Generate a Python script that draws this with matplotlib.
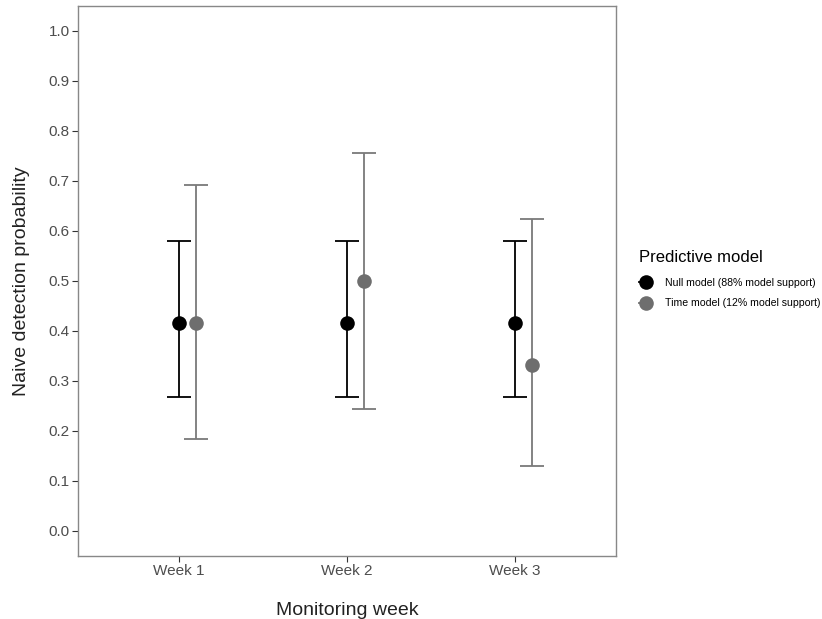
import matplotlib
matplotlib.use("Agg")
import matplotlib.pyplot as plt
from matplotlib.lines import Line2D
import numpy as np

plt.rcParams['font.family'] = ['Liberation Sans', 'DejaVu Sans']

weeks = ["Week 1", "Week 2", "Week 3"]
null_est = [0.417, 0.417, 0.417]
null_lo = [0.269, 0.269, 0.269]
null_hi = [0.581, 0.581, 0.581]
time_est = [0.417, 0.500, 0.333]
time_lo = [0.184, 0.244, 0.130]
time_hi = [0.692, 0.757, 0.624]
labels = ["Null model (88% model support)", "Time model (12% model support)"]

fig = plt.figure(figsize=(8.22, 6.19), dpi=100)
ax = fig.add_axes([78/822, 1-556/619, (616-78)/822, (556-6)/619])

x = np.arange(1, len(weeks)+1)
nudge = 0.1
cap = 8.5

def draw(xs, est, lo, hi, pcol, lcol):
    est = np.array(est); lo = np.array(lo); hi = np.array(hi)
    ax.errorbar(xs, est, yerr=[est-lo, hi-est], fmt='none', ecolor=lcol,
                elinewidth=1.3, capsize=cap, capthick=1.3, zorder=2)
    ax.plot(xs, est, 'o', color=pcol, markersize=10.5, zorder=3, markeredgewidth=0)

draw(x, null_est, null_lo, null_hi, 'black', 'black')
draw(x + nudge, time_est, time_lo, time_hi, '#6e6e6e', '#7a7a7a')

ax.set_xlim(0.4, 3.6)
ax.set_ylim(-0.05, 1.05)
ax.set_xticks(x)
ax.set_xticklabels(weeks)
ax.set_yticks(np.arange(0, 1.01, 0.1))
ax.set_yticklabels([f"{v:.1f}" for v in np.arange(0, 1.01, 0.1)])
ax.tick_params(axis='both', length=4, width=0.8, color='#333333', labelsize=11,
               labelcolor='#4d4d4d', pad=2)
for s in ax.spines.values():
    s.set_color('#888888')
    s.set_linewidth(1.0)

ax.set_xlabel("Monitoring week", fontsize=14, color='#222222', labelpad=17)
ax.set_ylabel("Naive detection probability", fontsize=14, color='#222222', labelpad=13)

handles = [
    Line2D([0], [0], color='black', marker='o', markersize=10.5, lw=1.3,
           markeredgewidth=0),
    Line2D([0], [0], color='#6e6e6e', marker='o', markersize=10.5, lw=1.3,
           markeredgewidth=0),
]
leg = fig.legend(handles, labels, title="Predictive model", loc='upper left',
                 bbox_to_anchor=(639/822, 1-250/619), frameon=False,
                 fontsize=7.6, title_fontsize=12, handlelength=1.25,
                 handletextpad=1.2, labelspacing=1.0, borderaxespad=0,
                 borderpad=0)
leg._legend_box.align = "left"
leg._legend_box.sep = leg._legend_box.sep + 1.5

fig.savefig("out.png", dpi=100)
